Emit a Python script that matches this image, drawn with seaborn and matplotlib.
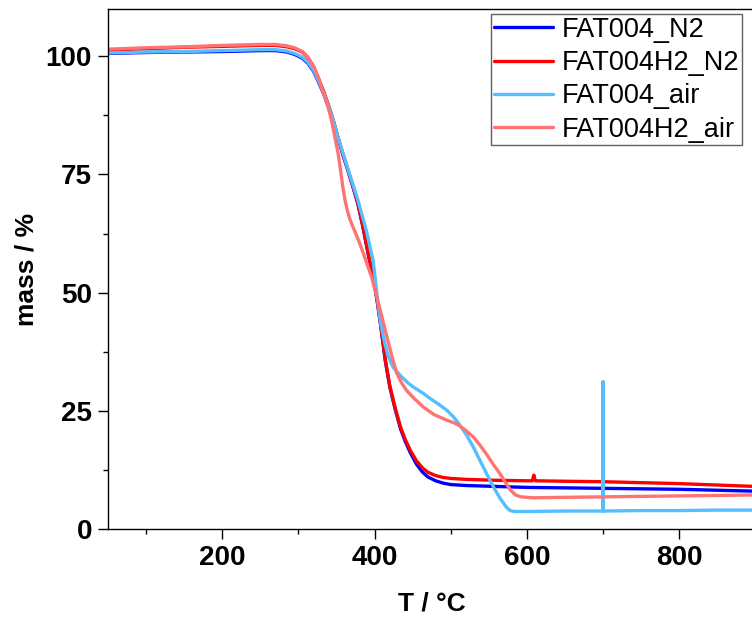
import numpy as np
import pandas as pd
import matplotlib
matplotlib.use("Agg")
import matplotlib.pyplot as plt
from matplotlib.ticker import MultipleLocator
import seaborn as sns

# ---- TGA data: temperature (°C) and residual mass (%) ----
series_names = ["FAT004_N2", "FAT004H2_N2", "FAT004_air", "FAT004H2_air"]
series_colors = ["#0000FF", "#FF0000", "#55BEFF", "#FF7373"]

t_fat004_n2 = [50, 100, 150, 200, 250, 270, 285, 295, 305, 312, 320, 327, 333,
               340, 346, 352, 359, 365, 372, 378, 385, 392, 398, 403, 408, 414,
               420, 427, 434, 440, 447, 455, 463, 470, 480, 490, 500, 520, 560,
               600, 650, 700, 750, 800, 850, 900]
m_fat004_n2 = [100.6, 100.8, 100.9, 101.0, 101.2, 101.2, 100.9, 100.4, 99.6,
               98.6, 96.8, 94.3, 92.1, 89.0, 86.0, 82.6, 78.8, 75.8, 72.1, 68.8,
               63.6, 57.8, 53.2, 48.6, 43.0, 35.6, 30.0, 25.3, 21.2, 18.6, 16.1,
               13.7, 12.0, 11.0, 10.2, 9.7, 9.4, 9.2, 9.0, 8.8, 8.7, 8.6, 8.5,
               8.4, 8.2, 8.0]

t_fat004h2_n2 = [50, 100, 150, 200, 250, 270, 285, 295, 305, 312, 320, 327, 333,
                 340, 346, 352, 359, 365, 372, 378, 385, 392, 398, 403, 408, 414,
                 420, 427, 434, 440, 447, 455, 463, 470, 480, 490, 500, 520, 560,
                 600, 607, 609, 611, 650, 700, 750, 800, 850, 900]
m_fat004h2_n2 = [101.3, 101.6, 101.9, 102.1, 102.3, 102.3, 102.0, 101.6, 100.9,
                 99.8, 97.8, 95.0, 92.6, 89.4, 86.3, 82.8, 79.0, 76.0, 72.3, 69.0,
                 63.8, 58.0, 53.4, 48.8, 43.2, 35.8, 30.2, 25.6, 21.6, 19.0, 16.6,
                 14.4, 12.9, 12.0, 11.3, 10.9, 10.7, 10.5, 10.3, 10.2, 10.2, 11.4,
                 10.2, 10.1, 10.0, 9.8, 9.6, 9.3, 9.0]

t_fat004_air = [50, 100, 150, 200, 250, 270, 285, 295, 305, 312, 320, 327, 333,
                340, 346, 352, 359, 366, 372, 378, 383, 389, 394, 398, 401, 404,
                408, 413, 418, 424, 433, 443, 451, 462, 473, 484, 495, 503, 510,
                516, 521, 530, 538, 547, 556, 565, 573, 578, 583, 600, 650, 700,
                700, 700, 750, 800, 850, 900]
m_fat004_air = [100.7, 100.9, 101.0, 101.2, 101.4, 101.4, 101.1, 100.6, 99.8,
                98.8, 97.0, 94.5, 92.3, 89.2, 86.2, 82.8, 79.2, 75.6, 72.6, 69.6,
                66.7, 63.2, 59.6, 56.8, 52.8, 48.2, 43.5, 39.5, 36.5, 34.3, 32.6,
                31.0, 30.0, 28.9, 27.6, 26.4, 25.1, 23.8, 22.4, 21.0, 19.8, 17.2,
                14.6, 11.7, 8.9, 6.4, 4.6, 3.9, 3.7, 3.7, 3.8, 3.8, 31.1, 3.8,
                3.9, 3.9, 4.0, 4.0]

t_fat004h2_air = [50, 100, 150, 200, 250, 270, 285, 295, 305, 312, 320, 327,
                  333, 337, 341, 344, 348, 352, 355, 358, 361, 364, 367, 371,
                  375, 380, 385, 396, 403, 414, 424, 429, 435, 442, 452, 464,
                  478, 495, 505, 512, 520, 530, 538, 547, 556, 565, 572, 578,
                  585, 592, 608, 650, 700, 750, 800, 850, 900]
m_fat004h2_air = [101.5, 101.8, 102.0, 102.3, 102.5, 102.5, 102.2, 101.8, 101.0,
                  99.9, 97.8, 95.2, 92.0, 90.3, 88.0, 86.0, 82.8, 79.5, 76.2,
                  72.6, 69.7, 67.5, 65.8, 64.1, 62.6, 60.6, 58.4, 53.3, 49.1,
                  42.0, 35.7, 33.0, 31.0, 29.3, 27.6, 25.8, 24.2, 23.0, 22.4,
                  21.8, 20.8, 19.4, 17.8, 15.8, 13.6, 11.6, 9.8, 8.3, 7.2, 6.8,
                  6.6, 6.7, 6.8, 6.9, 7.0, 7.1, 7.2]

x_major_ticks = [200, 400, 600, 800]
y_major_ticks = [0, 25, 50, 75, 100]

series_t = [t_fat004_n2, t_fat004h2_n2, t_fat004_air, t_fat004h2_air]
series_m = [m_fat004_n2, m_fat004h2_n2, m_fat004_air, m_fat004h2_air]

sns.set_style("ticks")
plt.rcParams["font.family"] = ["Liberation Sans", "DejaVu Sans"]
for key in ["text.color", "axes.labelcolor", "xtick.color", "ytick.color",
            "axes.edgecolor"]:
    plt.rcParams[key] = "black"

fig = plt.figure(figsize=(7.52, 6.17), dpi=100)
ax = fig.add_axes([108 / 752, 88 / 617, 647.5 / 752, 520 / 617])

for name, color, t, m in zip(series_names, series_colors, series_t, series_m):
    df = pd.DataFrame({"T": t, "mass": m})
    sns.lineplot(data=df, x="T", y="mass", ax=ax, color=color, label=name,
                 estimator=None, sort=False, lw=2.4, legend=False)

ax.set_xlim(50, 900)
ax.set_ylim(0, 110)
ax.set_xticks(x_major_ticks)
ax.set_yticks(y_major_ticks)
ax.xaxis.set_minor_locator(MultipleLocator(100))
ax.yaxis.set_minor_locator(MultipleLocator(12.5))

for side in ["left", "bottom", "top", "right"]:
    ax.spines[side].set_visible(True)
    ax.spines[side].set_linewidth(1.0)
    ax.spines[side].set_color("black")

ax.tick_params(which="major", direction="out", length=7, width=1.0,
               color="black", labelcolor="black", pad=4.5, labelsize=20)
ax.tick_params(which="minor", direction="out", length=3.5, width=1.0,
               color="black")
ax.tick_params(top=False, right=False, which="both")
for lbl in ax.get_xticklabels() + ax.get_yticklabels():
    lbl.set_fontweight("bold")

ax.set_xlabel("T / °C", fontsize=19, fontweight="bold", labelpad=15,
              color="black")
ax.set_ylabel("mass / %", fontsize=19, fontweight="bold", labelpad=5.5,
              color="black")

leg = ax.legend(loc="upper right", bbox_to_anchor=(742 / 752, 1 - 14 / 617),
                bbox_transform=fig.transFigure, borderaxespad=0,
                fontsize=19.5, frameon=True, fancybox=False, framealpha=1,
                edgecolor="#606060", borderpad=0.1, labelspacing=0.27,
                handlelength=2.2, handletextpad=0.32)
leg.get_frame().set_linewidth(1.0)
for txt in leg.get_texts():
    txt.set_color("black")

fig.savefig("out.png", dpi=100)
